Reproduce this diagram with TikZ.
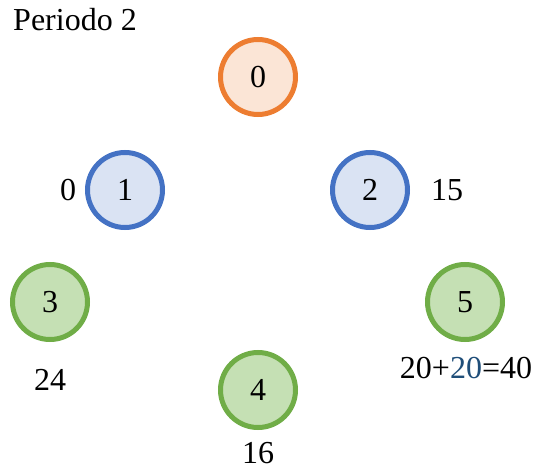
\documentclass[tikz,border=0pt]{standalone}
\usepackage{fontspec}
\setmainfont{Liberation Serif}
\definecolor{naranja}{HTML}{ED7D31}
\definecolor{naranjaclaro}{HTML}{FBE5D6}
\definecolor{azul}{HTML}{4472C4}
\definecolor{azulclaro}{HTML}{DAE3F3}
\definecolor{verde}{HTML}{70AD47}
\definecolor{verdeclaro}{HTML}{C5E0B4}
\definecolor{azuloscuro}{HTML}{1F4E79}
\begin{document}
\begin{tikzpicture}[
        x=1pt, y=-1pt,
        vertex/.style={
            circle,
            line width=5pt,
            minimum size=75pt,
            inner sep=0pt,
            font=\fontsize{32}{38}\selectfont
        },
        origen/.style={
            vertex,
            draw=naranja,
            fill=naranjaclaro
        },
        visitado/.style={
            vertex,
            draw=azul,
            fill=azulclaro
        },
        pendiente/.style={
            vertex,
            draw=verde,
            fill=verdeclaro
        },
        costo/.style={
            inner sep=0pt,
            font=\rmfamily\fontsize{32}{38}\selectfont
        }
    ]
    \useasboundingbox (0,0) rectangle (535,470);

    % Titulo
    \node[costo] (titulo) at (75,20) {Periodo 2};

    % Vertices
    \node[origen] (n0) at (258,77) {0};

    \node[visitado] (n1) at (125,190) {1};

    \node[visitado] (n2) at (370,190) {2};

    \node[pendiente] (n3) at (50,302) {3};

    \node[pendiente] (n4) at (258,390) {4};

    \node[pendiente] (n5) at (465,302) {5};

    % Costos
    \node[costo] (c1) at (68,190) {0};
    \node[costo] (c2) at (447,190) {15};
    \node[costo] (c3) at (50,380) {24};
    \node[costo] (c4) at (258,453) {16};
    \node[costo] (c5) at (466,368)
        {20+\textcolor{azuloscuro}{20}=40};

\end{tikzpicture}
\end{document}
